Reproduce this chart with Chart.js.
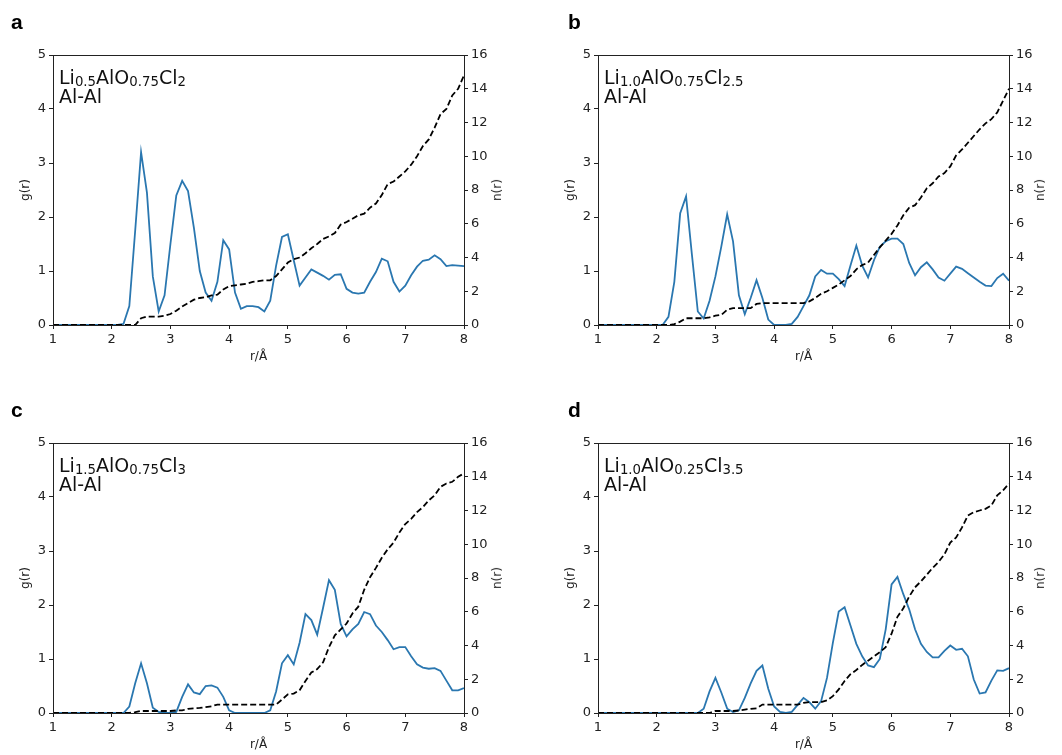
<!DOCTYPE html>
<html>
<head>
<meta charset="utf-8">
<script src="https://cdn.jsdelivr.net/npm/chart.js@4.4.1/dist/chart.umd.min.js"></script>
<style>
  html, body { margin: 0; padding: 0; background: #fff; overflow: hidden; }
  #page { position: relative; width: 1062px; height: 755px; overflow: hidden; font-family: 'DejaVu Sans', sans-serif; }
  .panel { position: absolute; }
  .panel canvas { position: absolute; left: 0; top: 0; }
  .letter { position: absolute; font-family: 'Liberation Sans', Arial, sans-serif; font-weight: bold; font-size: 21px; color: #000; line-height: 1; }
  .label { position: absolute; font-size: 19px; color: #111; line-height: 1; white-space: nowrap; }
  .label sub { font-size: 0.7em; vertical-align: -0.18em; line-height: 0; }
  .ntitle { position: absolute; font-size: 12px; color: #222; white-space: nowrap; transform: rotate(-90deg); transform-origin: center; }
</style>
</head>
<body>
<div id="page">
  <div class="panel" id="pa" style="left:0;top:0;width:545px;height:388px">
    <canvas id="ca" width="545" height="388"></canvas>
    <div class="letter" style="left:11px;top:11px">a</div>
    <div class="label" style="left:59px;top:68px">Li<sub>0.5</sub>AlO<sub>0.75</sub>Cl<sub>2</sub></div>
    <div class="label" style="left:59px;top:87px">Al-Al</div>
    <div class="ntitle" style="left:486px;top:183px">n(r)</div>
  </div>
  <div class="panel" id="pb" style="left:545px;top:0;width:517px;height:388px">
    <canvas id="cb" width="517" height="388"></canvas>
    <div class="letter" style="left:23px;top:11px">b</div>
    <div class="label" style="left:59px;top:68px">Li<sub>1.0</sub>AlO<sub>0.75</sub>Cl<sub>2.5</sub></div>
    <div class="label" style="left:59px;top:87px">Al-Al</div>
    <div class="ntitle" style="left:484px;top:183px">n(r)</div>
  </div>
  <div class="panel" id="pc" style="left:0;top:388px;width:545px;height:388px">
    <canvas id="cc" width="545" height="388"></canvas>
    <div class="letter" style="left:11px;top:11px">c</div>
    <div class="label" style="left:59px;top:68px">Li<sub>1.5</sub>AlO<sub>0.75</sub>Cl<sub>3</sub></div>
    <div class="label" style="left:59px;top:87px">Al-Al</div>
    <div class="ntitle" style="left:486px;top:183px">n(r)</div>
  </div>
  <div class="panel" id="pd" style="left:545px;top:388px;width:517px;height:388px">
    <canvas id="cd" width="517" height="388"></canvas>
    <div class="letter" style="left:23px;top:11px">d</div>
    <div class="label" style="left:59px;top:68px">Li<sub>1.0</sub>AlO<sub>0.25</sub>Cl<sub>3.5</sub></div>
    <div class="label" style="left:59px;top:87px">Al-Al</div>
    <div class="ntitle" style="left:484px;top:183px">n(r)</div>
  </div>
</div>
<script>
// radial grid, Å
const r = [
  1.0, 1.1, 1.2, 1.3, 1.4, 1.5, 1.6, 1.7, 1.8, 1.9,
  2.0, 2.1, 2.2, 2.3, 2.4, 2.5, 2.6, 2.7, 2.8, 2.9,
  3.0, 3.1, 3.2, 3.3, 3.4, 3.5, 3.6, 3.7, 3.8, 3.9,
  4.0, 4.1, 4.2, 4.3, 4.4, 4.5, 4.6, 4.7, 4.8, 4.9,
  5.0, 5.1, 5.2, 5.3, 5.4, 5.5, 5.6, 5.7, 5.8, 5.9,
  6.0, 6.1, 6.2, 6.3, 6.4, 6.5, 6.6, 6.7, 6.8, 6.9,
  7.0, 7.1, 7.2, 7.3, 7.4, 7.5, 7.6, 7.7, 7.8, 7.9,
  8.0
];

// a: Li0.5AlO0.75Cl2
const g_a = [
  0, 0, 0, 0, 0, 0, 0, 0, 0, 0,
  0, 0, 0.02, 0.35, 1.75, 3.2, 2.45, 0.9, 0.25, 0.55,
  1.5, 2.4, 2.67, 2.48, 1.8, 1.0, 0.6, 0.45, 0.8, 1.57,
  1.4, 0.6, 0.3, 0.35, 0.35, 0.33, 0.25, 0.45, 1.1, 1.63,
  1.68, 1.2, 0.73, 0.88, 1.03, 0.97, 0.91, 0.84, 0.93, 0.94,
  0.67, 0.6, 0.58, 0.6, 0.8, 0.98, 1.23, 1.18, 0.8, 0.62,
  0.73, 0.92, 1.08, 1.19, 1.21, 1.29, 1.22, 1.09, 1.11, 1.10,
  1.09
];
const n_a = [
  0, 0, 0, 0, 0, 0, 0, 0, 0, 0,
  0, 0, 0, 0, 0, 0.4, 0.5, 0.5, 0.5, 0.55,
  0.65, 0.85, 1.1, 1.3, 1.5, 1.6, 1.65, 1.75, 1.8, 2.1,
  2.3, 2.35, 2.4, 2.45, 2.55, 2.6, 2.65, 2.65, 2.9, 3.3,
  3.7, 3.9, 4.0, 4.25, 4.55, 4.8, 5.1, 5.25, 5.45, 5.95,
  6.1, 6.3, 6.5, 6.6, 6.95, 7.2, 7.7, 8.35, 8.5, 8.8,
  9.1, 9.5, 10.0, 10.6, 11.0, 11.7, 12.5, 12.8, 13.6, 14.0,
  14.8
];

// b: Li1.0AlO0.75Cl2.5
const g_b = [
  0, 0, 0, 0, 0, 0, 0, 0, 0, 0,
  0, 0, 0.15, 0.8, 2.07, 2.38, 1.3, 0.25, 0.12, 0.45,
  0.9, 1.45, 2.05, 1.55, 0.55, 0.2, 0.5, 0.83, 0.5, 0.1,
  0, 0, 0, 0.02, 0.15, 0.35, 0.55, 0.9, 1.02, 0.95,
  0.95, 0.85, 0.72, 1.1, 1.47, 1.1, 0.88, 1.2, 1.45, 1.55,
  1.6, 1.6, 1.5, 1.15, 0.92, 1.07, 1.16, 1.03, 0.88, 0.82,
  0.95, 1.08, 1.04, 0.96, 0.88, 0.8, 0.73, 0.72, 0.87, 0.95,
  0.82
];
const n_b = [
  0, 0, 0, 0, 0, 0, 0, 0, 0, 0,
  0, 0, 0, 0.05, 0.2, 0.4, 0.4, 0.4, 0.4, 0.45,
  0.55, 0.6, 0.9, 1.0, 1.0, 1.0, 1.0, 1.25, 1.3, 1.3,
  1.3, 1.3, 1.3, 1.3, 1.3, 1.3, 1.4, 1.6, 1.85, 2.0,
  2.2, 2.4, 2.65, 2.9, 3.3, 3.55, 3.7, 4.15, 4.6, 5.0,
  5.4, 5.9, 6.5, 6.95, 7.1, 7.55, 8.1, 8.4, 8.8, 9.0,
  9.4, 10.05, 10.4, 10.8, 11.2, 11.6, 11.95, 12.2, 12.6, 13.3,
  14.0
];

// c: Li1.5AlO0.75Cl3
const g_c = [
  0, 0, 0, 0, 0, 0, 0, 0, 0, 0,
  0, 0, 0, 0.12, 0.55, 0.92, 0.55, 0.1, 0.02, 0,
  0, 0.02, 0.3, 0.53, 0.38, 0.35, 0.5, 0.51, 0.47, 0.3,
  0.05, 0, 0, 0, 0, 0, 0, 0.05, 0.4, 0.92,
  1.07, 0.9, 1.3, 1.83, 1.72, 1.45, 1.95, 2.46, 2.28, 1.65,
  1.42, 1.55, 1.65, 1.87, 1.83, 1.62, 1.5, 1.35, 1.18, 1.22,
  1.22, 1.05, 0.9, 0.84, 0.82, 0.83, 0.78, 0.6, 0.42, 0.42,
  0.46
];
const n_c = [
  0, 0, 0, 0, 0, 0, 0, 0, 0, 0,
  0, 0, 0, 0, 0.05, 0.12, 0.12, 0.12, 0.12, 0.12,
  0.12, 0.15, 0.15, 0.25, 0.28, 0.3, 0.35, 0.4, 0.5, 0.5,
  0.5, 0.5, 0.5, 0.5, 0.5, 0.5, 0.5, 0.5, 0.5, 0.8,
  1.1, 1.15, 1.35, 1.9, 2.4, 2.6, 3.0, 3.9, 4.6, 4.95,
  5.3, 5.9, 6.3, 7.3, 8.05, 8.6, 9.2, 9.7, 10.1, 10.7,
  11.2, 11.5, 11.9, 12.2, 12.6, 12.9, 13.4, 13.6, 13.7, 14.0,
  14.2
];

// d: Li1.0AlO0.25Cl3.5
const g_d = [
  0, 0, 0, 0, 0, 0, 0, 0, 0, 0,
  0, 0, 0, 0, 0, 0, 0, 0, 0.08, 0.4,
  0.65, 0.38, 0.08, 0.02, 0.05, 0.28, 0.55, 0.78, 0.88, 0.45,
  0.12, 0.02, 0, 0.02, 0.15, 0.28, 0.2, 0.08, 0.22, 0.65,
  1.3, 1.88, 1.96, 1.62, 1.28, 1.05, 0.88, 0.85, 1.0, 1.55,
  2.38, 2.52, 2.2, 1.92, 1.55, 1.28, 1.13, 1.03, 1.03, 1.15,
  1.25, 1.17, 1.19, 1.05, 0.62, 0.36, 0.38, 0.6, 0.79, 0.78,
  0.83
];
const n_d = [
  0, 0, 0, 0, 0, 0, 0, 0, 0, 0,
  0, 0, 0, 0, 0, 0, 0, 0, 0, 0,
  0.12, 0.12, 0.12, 0.12, 0.15, 0.2, 0.25, 0.28, 0.5, 0.5,
  0.5, 0.5, 0.5, 0.5, 0.5, 0.6, 0.65, 0.65, 0.65, 0.75,
  1.0, 1.4, 1.9, 2.3, 2.55, 2.85, 3.1, 3.35, 3.6, 3.9,
  4.7, 5.7, 6.2, 6.9, 7.45, 7.8, 8.2, 8.6, 8.95, 9.4,
  10.1, 10.4, 11.0, 11.7, 11.9, 12.0, 12.1, 12.3, 12.9, 13.2,
  13.6
];

const gTicks = [0, 1, 2, 3, 4, 5];
const nTicks = [0, 2, 4, 6, 8, 10, 12, 14, 16];

Chart.defaults.font.family = "'DejaVu Sans', sans-serif";
Chart.defaults.color = '#222';

const pts = (ys) => r.map((x, i) => ({ x: x, y: ys[i] }));

// box around the plot area, like matplotlib spines
const frame = {
  id: 'frame',
  afterDatasetsDraw(chart) {
    const a = chart.chartArea, c = chart.ctx;
    c.save();
    c.strokeStyle = '#222';
    c.lineWidth = 1;
    c.strokeRect(Math.round(a.left) + 0.5, Math.round(a.top) + 0.5,
      Math.round(a.right - a.left), Math.round(a.bottom - a.top));
    c.restore();
  }
};

const tickGrid = { drawOnChartArea: false, drawTicks: true, tickLength: 4, color: '#222' };

function makePanel(id, g, n, rightWidth) {
  return new Chart(document.getElementById(id), {
    type: 'line',
    data: {
      datasets: [
        { label: 'n(r)', data: pts(n), yAxisID: 'yn', order: 0,
          borderColor: '#000', borderWidth: 1.8, borderDash: [6, 3], pointRadius: 0, fill: false },
        { label: 'g(r)', data: pts(g), yAxisID: 'y', order: 1,
          borderColor: '#2a77b0', borderWidth: 1.8, pointRadius: 0, fill: false }
      ]
    },
    options: {
      responsive: false,
      animation: false,
      layout: { padding: { top: 55, left: 0, right: 0, bottom: 0 } },
      plugins: { legend: { display: false }, tooltip: { enabled: false } },
      scales: {
        x: {
          type: 'linear', min: 1, max: 8,
          ticks: { stepSize: 1, padding: 3, font: { size: 13 } },
          grid: tickGrid, border: { display: false },
          title: { display: true, text: 'r/Å', font: { size: 12 }, padding: { top: 0, bottom: 24 } },
          afterFit: (s) => { s.height = 63; }
        },
        y: {
          position: 'left', min: 0, max: 5,
          afterBuildTicks: (s) => { s.ticks = gTicks.map(v => ({ value: v })); },
          ticks: { padding: 3, font: { size: 13 } },
          grid: tickGrid, border: { display: false },
          title: { display: true, text: 'g(r)', font: { size: 12 }, padding: { top: 19, bottom: 0 } },
          afterFit: (s) => { s.width = 53; }
        },
        yn: {
          position: 'right', min: 0, max: 16,
          afterBuildTicks: (s) => { s.ticks = nTicks.map(v => ({ value: v })); },
          ticks: { padding: 3, font: { size: 13 } },
          grid: tickGrid, border: { display: false },
          afterFit: (s) => { s.width = rightWidth; }
        }
      }
    },
    plugins: [frame]
  });
}

makePanel('ca', g_a, n_a, 81);
makePanel('cb', g_b, n_b, 53);
makePanel('cc', g_c, n_c, 81);
makePanel('cd', g_d, n_d, 53);
</script>
</body>
</html>
